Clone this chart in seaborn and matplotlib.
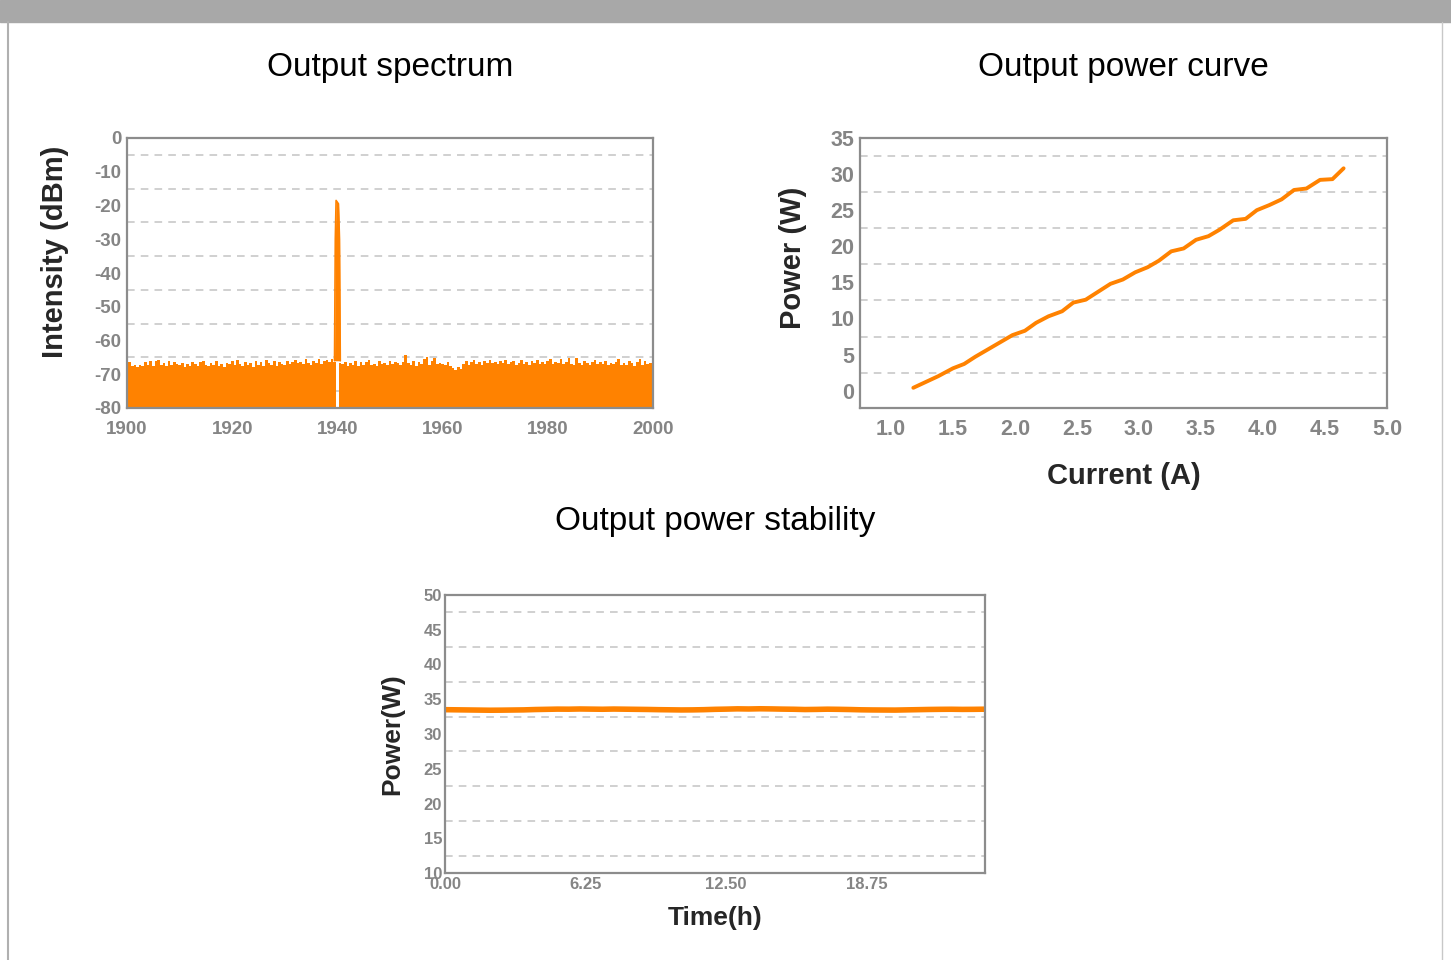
import numpy as np
import pandas as pd
import matplotlib
matplotlib.use("Agg")
import matplotlib.pyplot as plt
import seaborn as sns
from matplotlib.patches import Rectangle
from matplotlib.lines import Line2D
from matplotlib.ticker import MultipleLocator

# ----------------------------
# Data
# ----------------------------
# spectrum noise floor, 1900-2000 nm every 0.5 nm (1940.0 is the notch)
noise_dbm = [
    -66.0, -66.3, -67.6, -67.4, -67.8, -67.2, -67.5, -66.4, -67.3, -66.0, -67.6, -66.2, -65.9, -67.4, -66.8, -67.7, -66.1, -67.2, -66.5, -67.0,
    -67.4, -66.6, -67.8, -66.9, -67.5, -66.3, -67.0, -67.6, -66.4, -66.1, -67.3, -67.7, -66.8, -67.2, -66.0, -67.5, -66.9, -67.8, -66.6, -67.1,
    -66.2, -67.4, -65.8, -67.0, -67.6, -66.5, -67.3, -66.8, -67.8, -66.0, -67.2, -66.4, -67.5, -65.9, -66.7, -67.3, -66.2, -67.6, -66.5, -66.9,
    -67.3, -66.1, -67.0, -66.4, -65.9, -66.8, -66.3, -67.1, -65.5, -66.6, -67.2, -66.0, -66.7, -65.6, -66.9, -66.2, -65.8, -66.5, -65.5, -66.3,
    -80.0, -66.8, -67.0, -66.3, -67.5, -66.7, -67.2, -66.1, -67.6, -66.5, -67.3, -66.4, -65.9, -67.4, -66.9, -67.7, -66.2, -67.0, -66.6, -67.3,
    -66.0, -67.1, -66.3, -66.8, -67.4, -66.5, -64.3, -66.7, -67.2, -66.1, -67.5, -66.4, -67.0, -65.6, -65.0, -67.3, -66.2, -65.2, -67.0, -66.6,
    -66.9, -67.4, -66.3, -67.6, -68.0, -68.6, -67.8, -68.3, -67.0, -66.1, -67.2, -66.5, -65.8, -66.9, -66.4, -67.3, -66.0, -66.7, -65.9, -66.8,
    -66.3, -67.1, -66.0, -66.8, -65.9, -67.0, -66.5, -66.2, -67.3, -66.6, -65.8, -66.9, -66.3, -67.2, -66.1, -66.7, -65.7, -66.9, -66.4, -67.0,
    -66.2, -65.6, -67.1, -66.3, -66.8, -65.4, -67.0, -66.5, -65.3, -66.9, -67.4, -65.2, -66.6, -67.2, -66.0, -66.8, -67.3, -66.4, -65.9, -67.1,
    -66.5, -67.0, -66.2, -67.4, -66.7, -67.1, -66.3, -65.4, -67.2, -66.6, -67.3, -66.1, -66.8, -67.5, -66.5, -65.6, -67.4, -66.2, -67.0, -66.6,
    -66.0,
]
peak_nm = [1939.45, 1939.6, 1939.75, 1940.2, 1940.4, 1940.55]
peak_dbm = [-66.0, -30.0, -18.5, -19.5, -30.0, -66.0]

# output power curve
current_a = [1.18, 1.38, 1.50, 1.59, 1.68, 1.78, 1.89, 1.98, 2.08, 2.17, 2.27, 2.38,
             2.47, 2.57, 2.67, 2.77, 2.87, 2.97, 3.07, 3.16, 3.26, 3.36, 3.46, 3.56,
             3.65, 3.76, 3.86, 3.95, 4.05, 4.15, 4.25, 4.35, 4.46, 4.56, 4.65]
power_w = [0.4, 2.0, 3.1, 3.7, 4.7, 5.7, 6.8, 7.7, 8.3, 9.4, 10.3, 11.0,
           12.2, 12.6, 13.7, 14.8, 15.4, 16.4, 17.1, 18.0, 19.3, 19.7, 20.9, 21.4,
           22.3, 23.6, 23.8, 25.0, 25.7, 26.5, 27.8, 28.0, 29.2, 29.3, 30.8]

# power stability, 0-24 h every 0.5 h
stab_w = [33.50, 33.48, 33.46, 33.44, 33.42, 33.43, 33.45, 33.47, 33.52, 33.55,
          33.58, 33.57, 33.60, 33.58, 33.56, 33.59, 33.57, 33.55, 33.53, 33.50,
          33.48, 33.46, 33.47, 33.50, 33.55, 33.58, 33.62, 33.60, 33.63, 33.61,
          33.58, 33.56, 33.52, 33.54, 33.57, 33.55, 33.52, 33.48, 33.46, 33.45,
          33.44, 33.47, 33.50, 33.53, 33.55, 33.56, 33.54, 33.55, 33.57]

orange = "#ff8200"
frame_gray = "#8c8c8c"
tick_gray = "#858585"
grid_gray = "#c4c4c4"

sns.set_style("white")
plt.rcParams['font.family'] = ['Liberation Sans', 'DejaVu Sans']
plt.rcParams['axes.unicode_minus'] = False

fig = plt.figure(figsize=(14.51, 9.6), dpi=100)

# page decoration
fig.patches.append(Rectangle((0, 1 - 22 / 960), 1, 22 / 960, transform=fig.transFigure,
                             color="#a8a8a8", zorder=0))
fig.lines.append(Line2D([8 / 1451, 8 / 1451], [0, 1 - 22 / 960], transform=fig.transFigure,
                        color="#b0b0b0", lw=1.5))
fig.lines.append(Line2D([1442 / 1451, 1442 / 1451], [0, 1 - 22 / 960], transform=fig.transFigure,
                        color="#c8c8c8", lw=1.0))


def style_axes(ax, tick_size):
    for s in ax.spines.values():
        s.set_color(frame_gray)
        s.set_linewidth(1.6)
    ax.tick_params(axis='both', colors=frame_gray, labelcolor=tick_gray,
                   labelsize=tick_size, direction='in', length=0, pad=4)
    ax.tick_params(axis='y', length=5, width=1.2)
    for lab in ax.get_xticklabels() + ax.get_yticklabels():
        lab.set_fontweight('bold')


def dashed_grid(ax, levels):
    for v in levels:
        ax.axhline(v, color=grid_gray, lw=1.1, ls=(0, (5, 4)), zorder=0.5)


# ----------------------------
# Output spectrum
# ----------------------------
ax1 = fig.add_axes([127 / 1451, 1 - 408 / 960, 526 / 1451, 270 / 960])
wl = np.linspace(1900, 2000, len(noise_dbm))
ax1.fill_between(wl, noise_dbm, -80, step='mid', color=orange, lw=0, zorder=2)
ax1.fill_between(peak_nm, peak_dbm, -66, color=orange, lw=0, zorder=2)
sns.lineplot(x=peak_nm, y=peak_dbm, ax=ax1, color=orange, lw=1.2, zorder=3)
ax1.set_xlim(1900, 2000)
ax1.set_ylim(-80, 0)
ax1.set_xticks([1900, 1920, 1940, 1960, 1980, 2000])
ax1.set_yticks(range(-80, 1, 10))
dashed_grid(ax1, np.arange(-75, 0, 10))
style_axes(ax1, 13.5)
ax1.tick_params(axis='x', pad=9)
ax1.set_ylabel("Intensity (dBm)", fontsize=21, fontweight='bold')
ax1.yaxis.set_label_coords(-0.111, 0.58)
ax1.set_title("Output spectrum", fontsize=24, pad=0, color='black', y=1.23)

# ----------------------------
# Output power curve
# ----------------------------
ax2 = fig.add_axes([860 / 1451, 1 - 408 / 960, 527 / 1451, 270 / 960])
curve = pd.DataFrame({"Current": current_a, "Power": power_w})
sns.lineplot(data=curve, x="Current", y="Power", ax=ax2, color=orange, lw=2.8)
ax2.set_xlim(0.75, 5.0)
ax2.set_ylim(-2.4, 35)
ax2.set_xticks(np.arange(1.0, 5.01, 0.5))
ax2.set_yticks(range(0, 36, 5))
ax2.xaxis.set_minor_locator(MultipleLocator(0.25))
dashed_grid(ax2, np.arange(2.5, 35, 5))
style_axes(ax2, 15.5)
ax2.tick_params(axis='x', which='major', length=8, width=1.5, pad=8)
ax2.tick_params(axis='x', which='minor', direction='in', length=4, width=1.2, color=frame_gray)
ax2.set_xlabel("Current (A)", fontsize=21, fontweight='bold', labelpad=16)
ax2.set_ylabel("Power (W)", fontsize=21, fontweight='bold')
ax2.yaxis.set_label_coords(-0.101, 0.555)
ax2.set_title("Output power curve", fontsize=24, pad=0, color='black', y=1.23)

# ----------------------------
# Output power stability
# ----------------------------
ax3 = fig.add_axes([445 / 1451, 1 - 873 / 960, 540 / 1451, 278 / 960])
hours = np.linspace(0, 24, len(stab_w))
sns.lineplot(x=hours, y=stab_w, ax=ax3, color=orange, lw=4)
ax3.set_xlim(0, 24)
ax3.set_ylim(10, 50)
ax3.set_xticks([0, 6.25, 12.5, 18.75])
ax3.set_xticklabels(["0.00", "6.25", "12.50", "18.75"])
ax3.set_yticks(range(10, 51, 5))
ax3.xaxis.set_minor_locator(MultipleLocator(3.125))
dashed_grid(ax3, np.arange(12.5, 50, 5))
style_axes(ax3, 12)
ax3.tick_params(axis='x', which='minor', direction='in', length=4, width=1.2, color=frame_gray)
ax3.tick_params(axis='x', pad=3)
ax3.tick_params(axis='y', pad=2)
ax3.set_xlabel("Time(h)", fontsize=19, fontweight='bold', labelpad=10)
ax3.set_ylabel("Power(W)", fontsize=19, fontweight='bold', labelpad=14)
ax3.set_title("Output power stability", fontsize=24, pad=0, color='black', y=1.235)

fig.savefig("out.png", dpi=100)
